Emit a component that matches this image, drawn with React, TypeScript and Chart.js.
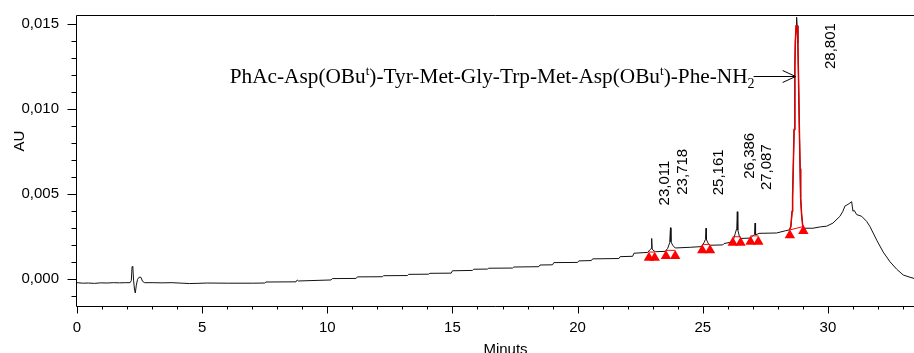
import React, { useEffect, useRef } from 'react';
import { Chart, registerables } from 'chart.js';

Chart.register(...registerables);

// ---- chromatogram trace (minutes, AU) ----
const traceTimes = [
  0.0, 0.25, 0.45, 0.7, 0.95, 1.2, 1.45, 1.7, 1.95, 2.12, 2.17, 2.2, 2.23, 2.26, 2.3, 2.33, 2.37, 2.42, 2.48, 2.55, 2.62, 2.7,
  3.0, 3.4, 3.8, 4.2, 4.5, 4.8, 5.2, 6.0, 7.0, 7.5, 7.55, 8.75, 8.8, 8.85, 10.15, 10.2, 11.15, 11.2, 12.2, 12.25, 13.2, 13.25,
  14.05, 14.1, 14.95, 15.0, 15.8, 15.85, 16.4, 16.45, 17.4, 17.45, 18.45, 18.5, 19.0, 19.05, 20.0, 20.05, 20.55, 20.6, 21.65,
  21.7, 22.2, 22.25, 22.8, 22.88, 22.94, 22.96, 22.98, 23.05, 23.12, 23.5, 23.6, 23.68, 23.71, 23.73, 23.8, 23.9, 24.5, 24.95,
  25.05, 25.11, 25.13, 25.15, 25.22, 25.3, 25.8, 25.85, 26.2, 26.3, 26.36, 26.38, 26.4, 26.46, 26.52, 26.9, 27.0, 27.07, 27.09,
  27.11, 27.18, 27.25, 27.95, 28.3, 28.46, 28.52, 28.57, 28.59, 28.62, 28.65, 28.68, 28.7, 28.73, 28.75, 28.77, 28.8, 28.83,
  28.86, 28.89, 28.91, 28.95, 28.99, 29.02, 29.4, 29.7, 29.95, 30.2, 30.48, 30.6, 30.68, 30.8, 30.88, 30.95, 31.0, 31.05,
  31.15, 31.35, 31.55, 31.68, 31.95, 32.21, 32.48, 32.75, 33.01, 33.28, 33.44,
];
const traceValues = [
  -0.0002, -0.00023, -0.00022, -0.00024, -0.00021, -0.00022, -0.0002, -0.00021, -0.0002, -0.0002, -0.00008, 0.00075, 0.00072,
  -0.00005, -0.00065, -0.0008, -0.00035, 0.0, 0.00012, 0.00012, -0.00012, -0.0002,
  -0.0002, -0.00021, -0.0002, -0.00023, -0.00025, -0.00024, -0.00022, -0.00023, -0.00023, -0.00022, -0.00016, -0.00015,
  -0.00004, -0.0001, -0.00004, 0.00004, 0.00005, 0.00014, 0.00015, 0.00021, 0.00022, 0.00029,
  0.0003, 0.00035, 0.00036, 0.0005, 0.00052, 0.00059, 0.0006, 0.00065, 0.00066, 0.00072, 0.00074, 0.00084, 0.00085, 0.00098,
  0.00099, 0.00108, 0.0011, 0.0012, 0.00122,
  0.00133, 0.00135, 0.00153, 0.00158, 0.00172, 0.0018, 0.0024, 0.00178, 0.00166, 0.00162, 0.00164, 0.00182, 0.00215, 0.00303,
  0.0022, 0.002, 0.00184, 0.00188, 0.00192,
  0.00215, 0.00235, 0.003, 0.00232, 0.0021, 0.002, 0.00202, 0.0021, 0.0022, 0.0027, 0.003, 0.00397, 0.0029, 0.00255, 0.0024,
  0.00242, 0.00255, 0.00262, 0.0033,
  0.00262, 0.00265, 0.0027, 0.00272, 0.00285, 0.0029, 0.0031, 0.004, 0.0048, 0.0068, 0.0088, 0.0125, 0.014, 0.0149, 0.0154,
  0.0149, 0.0139, 0.0115,
  0.0088, 0.0065, 0.0048, 0.0038, 0.0032, 0.003, 0.003, 0.00308, 0.00312, 0.0033, 0.0037, 0.004, 0.0043, 0.0044, 0.00448,
  0.00456, 0.004, 0.00405,
  0.0038, 0.0037, 0.0034, 0.0031, 0.0023, 0.0016, 0.00103, 0.00059, 0.00025, 0.00012, 0.00005,
];

// ---- integrated main peak (red overlay) ----
const mainPeakTimes = [
  28.46, 28.52, 28.57, 28.59, 28.62, 28.65, 28.68, 28.7, 28.73, 28.77, 28.8, 28.83, 28.86, 28.89, 28.91, 28.95, 28.99, 29.02,
];
const mainPeakValues = [
  0.0029, 0.0031, 0.004, 0.0048, 0.0068, 0.0088, 0.0125, 0.014, 0.0149, 0.0149, 0.0139, 0.0115, 0.0088, 0.0065, 0.0048,
  0.0038, 0.0032, 0.003,
];

// ---- integration baselines (start, end, level) ----
const baselineStarts = [22.85, 23.53, 24.98, 26.2, 26.91, 28.48];
const baselineEnds = [23.08, 23.9, 25.29, 26.51, 27.22, 29.02];
const baselineStartValues = [0.0016, 0.0017, 0.00205, 0.0025, 0.00255, 0.0029];
const baselineEndValues = [0.0016, 0.0017, 0.00205, 0.0025, 0.00255, 0.0031];

// ---- integration markers (red triangles) ----
const markerTimes = [22.85, 23.08, 23.53, 23.9, 24.98, 25.29, 26.2, 26.51, 26.91, 27.22, 28.48, 29.02];
const markerValues = [0.00127, 0.00127, 0.00137, 0.00137, 0.0017, 0.0017, 0.00215, 0.00215, 0.0022, 0.0022, 0.00259, 0.00284];

// ---- peak retention-time labels ----
const peakTimes = [23.011, 23.718, 25.161, 26.386, 27.087, 28.801];
const peakLabels = ['23,011', '23,718', '25,161', '26,386', '27,087', '28,801'];

// ---- compound annotation ----
const compoundParts = ['PhAc-Asp(OBu', 't', ')-Tyr-Met-Gly-Trp-Met-Asp(OBu', 't', ')-Phe-NH', '2'];
const compoundKinds = ['n', 'sup', 'n', 'sup', 'n', 'sub'];
const compoundPeakTime = 28.75;

// ---- axes ----
const xMin = 0;
const xMax = 33.44;
const yMin = -0.00157;
const yMax = 0.01553;
const xTitle = 'Minuts';
const yTitle = 'AU';

const SANS = '"Liberation Sans", Arial, sans-serif';
const SERIF = '"Liberation Serif", "Times New Roman", serif';

const zip = (xs: number[], ys: (number | null)[]) => xs.map((x, i) => ({ x, y: ys[i] }));

const hplcPlugin = {
  id: 'hplcAnnotations',
  afterDraw(chart: any) {
    const { ctx, chartArea: a, scales } = chart;
    const xs = scales.x;
    const ys = scales.y;
    ctx.save();
    ctx.strokeStyle = '#000';
    ctx.lineWidth = 1;
    const L = Math.round(a.left) - 0.5;
    const T = Math.round(a.top) + 0.5;
    const B = Math.round(a.bottom) + 0.5;
    ctx.beginPath();
    ctx.moveTo(a.right, T);
    ctx.lineTo(L, T);
    ctx.lineTo(L, B);
    ctx.lineTo(a.right, B);
    for (let i = -1; i <= 15; i++) {
      const y = Math.round(ys.getPixelForValue(i * 0.001)) + 0.5;
      const len = i % 5 === 0 ? 9 : 5;
      ctx.moveTo(L - len, y);
      ctx.lineTo(L, y);
    }
    for (let m = 0; m <= Math.floor(xMax); m++) {
      const x = Math.round(xs.getPixelForValue(m)) + 0.5;
      const len = m % 5 === 0 ? 7 : 3;
      ctx.moveTo(x, B);
      ctx.lineTo(x, B + len);
    }
    ctx.stroke();

    // axis titles
    ctx.fillStyle = '#000';
    ctx.font = `15px ${SANS}`;
    ctx.textAlign = 'center';
    ctx.textBaseline = 'alphabetic';
    ctx.fillText(xTitle, (a.left + a.right) / 2 + 10, 354);
    ctx.save();
    ctx.translate(20, a.top + 126);
    ctx.rotate(-Math.PI / 2);
    ctx.textBaseline = 'middle';
    ctx.fillText(yTitle, 0, 0);
    ctx.restore();

    // peak labels
    ctx.font = `15px ${SANS}`;
    peakTimes.forEach((t, i) => {
      let localMax = -Infinity;
      traceTimes.forEach((tt, j) => {
        if (Math.abs(tt - t) < 0.1) localMax = Math.max(localMax, traceValues[j]);
      });
      const px = xs.getPixelForValue(t);
      let cx: number;
      let by: number;
      if (i === peakTimes.length - 1) {
        cx = px + 33;
        by = a.top + 54;
      } else {
        cx = px + 12;
        by = ys.getPixelForValue(localMax) - 33;
      }
      ctx.save();
      ctx.translate(cx, by);
      ctx.rotate(-Math.PI / 2);
      ctx.textAlign = 'left';
      ctx.textBaseline = 'middle';
      ctx.fillText(peakLabels[i], 0, 0);
      ctx.restore();
    });

    // compound label with arrow
    const tipX = xs.getPixelForValue(compoundPeakTime) - 1;
    const arrowY = Math.round(a.top + 61) + 0.5;
    const arrowStart = tipX - 42;
    ctx.beginPath();
    ctx.moveTo(arrowStart, arrowY);
    ctx.lineTo(tipX, arrowY);
    ctx.moveTo(tipX - 13, arrowY - 6);
    ctx.lineTo(tipX, arrowY);
    ctx.lineTo(tipX - 13, arrowY + 6);
    ctx.stroke();

    const fontFor = (k: string) =>
      k === 'n' ? `21.3px ${SERIF}` : k === 'sup' ? `13px ${SERIF}` : `14px ${SERIF}`;
    let total = 0;
    compoundParts.forEach((p, i) => {
      ctx.font = fontFor(compoundKinds[i]);
      total += ctx.measureText(p).width;
    });
    let x = arrowStart + 1 - total;
    const baseY = arrowY + 6;
    ctx.textAlign = 'left';
    ctx.textBaseline = 'alphabetic';
    compoundParts.forEach((p, i) => {
      const k = compoundKinds[i];
      ctx.font = fontFor(k);
      const dy = k === 'sup' ? -8 : k === 'sub' ? 5 : 0;
      ctx.fillText(p, x, baseY + dy);
      x += ctx.measureText(p).width;
    });
    ctx.restore();
  },
};

const zeroPadding = (s: any) => {
  s.paddingTop = 0;
  s.paddingBottom = 0;
  s.paddingLeft = 0;
  s.paddingRight = 0;
};

export default function App() {
  const canvasRef = useRef<HTMLCanvasElement | null>(null);

  useEffect(() => {
    if (!canvasRef.current) return;
    const baselineData: { x: number; y: number | null }[] = [];
    baselineStarts.forEach((s, i) => {
      baselineData.push({ x: s, y: baselineStartValues[i] });
      baselineData.push({ x: baselineEnds[i], y: baselineEndValues[i] });
      baselineData.push({ x: baselineEnds[i], y: null });
    });

    const chart = new Chart(canvasRef.current, {
      type: 'scatter',
      data: {
        datasets: [
          {
            label: 'markers',
            data: zip(markerTimes, markerValues),
            showLine: false,
            pointStyle: 'triangle',
            pointRadius: 6,
            pointBackgroundColor: '#ff0000',
            pointBorderColor: '#ff0000',
            pointBorderWidth: 0,
          },
          {
            label: 'main peak',
            data: zip(mainPeakTimes, mainPeakValues),
            showLine: true,
            borderColor: '#e00000',
            borderWidth: 1.5,
            pointRadius: 0,
            tension: 0,
          },
          {
            label: 'baselines',
            data: baselineData,
            showLine: true,
            spanGaps: false,
            borderColor: '#ff0000',
            borderWidth: 1,
            pointRadius: 0,
            tension: 0,
          },
          {
            label: 'trace',
            data: zip(traceTimes, traceValues),
            showLine: true,
            borderColor: '#111111',
            borderWidth: 1,
            pointRadius: 0,
            tension: 0,
          },
        ],
      },
      options: {
        animation: false,
        responsive: true,
        maintainAspectRatio: false,
        layout: { autoPadding: false, padding: { left: 0, top: 15, right: 0, bottom: 0 } },
        plugins: { legend: { display: false }, tooltip: { enabled: false } },
        events: [],
        scales: {
          x: {
            type: 'linear',
            min: xMin,
            max: xMax,
            grid: { display: false, drawTicks: false },
            border: { display: false },
            ticks: {
              stepSize: 1,
              autoSkip: false,
              includeBounds: false,
              maxRotation: 0,
              padding: 13,
              color: '#000',
              font: { family: SANS, size: 15 },
              callback: (v: any) => {
                const n = Number(v);
                return Math.abs(n - Math.round(n)) < 1e-6 && Math.round(n) % 5 === 0 ? String(Math.round(n)) : '';
              },
            },
            afterFit: (s: any) => {
              s.height = 47;
              zeroPadding(s);
            },
          },
          y: {
            type: 'linear',
            min: yMin,
            max: yMax,
            grid: { display: false, drawTicks: false },
            border: { display: false },
            ticks: {
              stepSize: 0.001,
              autoSkip: false,
              includeBounds: false,
              padding: 18,
              color: '#000',
              font: { family: SANS, size: 15 },
              callback: (v: any) => {
                const n = Number(v);
                const r = n / 0.005;
                return Math.abs(r - Math.round(r)) < 1e-6 && n > -0.0001 ? n.toFixed(3).replace('.', ',') : '';
              },
            },
            afterFit: (s: any) => {
              s.width = 77;
              zeroPadding(s);
            },
          },
        },
      },
      plugins: [hplcPlugin],
    });
    return () => chart.destroy();
  }, []);

  return (
    <div style={{ position: 'fixed', left: 0, top: 0, width: 914, height: 353, background: '#fff' }}>
      <canvas ref={canvasRef} />
    </div>
  );
}
